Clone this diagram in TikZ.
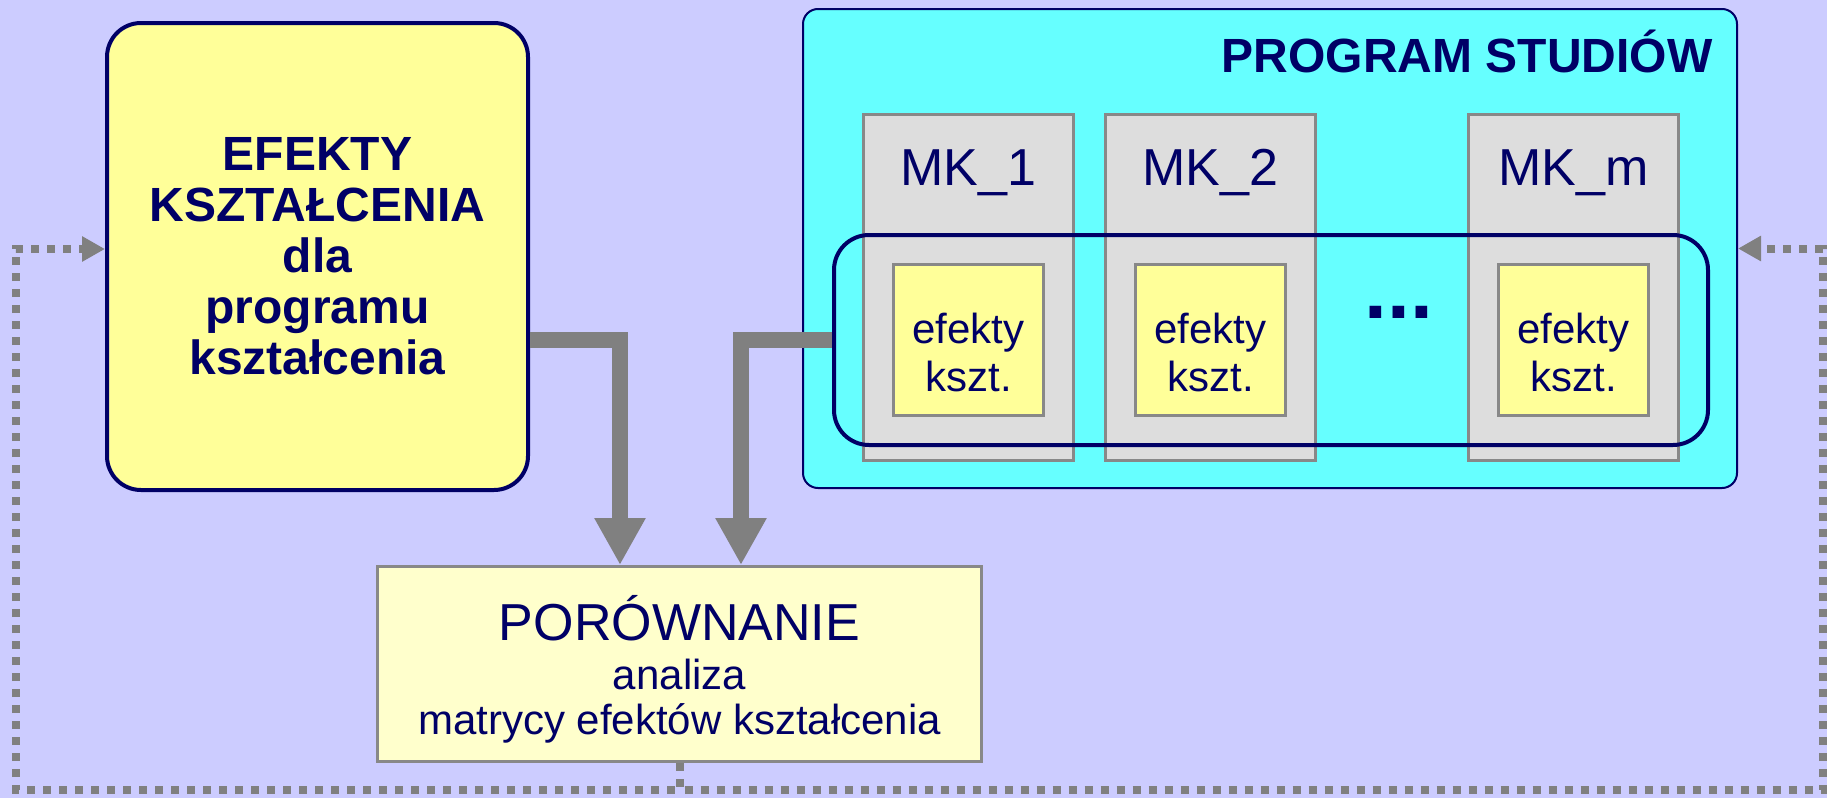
\documentclass[tikz,border=0pt]{standalone}
\usepackage{fontspec}
\setmainfont{Liberation Sans}
\usetikzlibrary{arrows.meta, positioning, calc}

\definecolor{bglav}{HTML}{CCCCFF}
\definecolor{goalyellow}{HTML}{FFFF99}
\definecolor{paleyellow}{HTML}{FFFFCC}
\definecolor{progcyan}{HTML}{66FFFF}
\definecolor{mkgray}{HTML}{DDDDDD}
\definecolor{edgegray}{HTML}{888888}
\definecolor{arrowgray}{HTML}{808080}
\definecolor{navy}{HTML}{000066}

\begin{document}
\begin{tikzpicture}[x=0.5pt, y=-0.5pt, >=latex,
    every node/.style={text=navy, inner sep=0pt},
    goalbox/.style={draw=navy, line width=2pt, fill=goalyellow, rounded corners=17pt,
        minimum width=210.5pt, minimum height=233.5pt, align=center,
        font=\bfseries\fontsize{24}{25.5}\selectfont},
    progbox/.style={draw=navy, line width=1pt, fill=progcyan, rounded corners=7.5pt,
        minimum width=467pt, minimum height=239.5pt},
    mkbox/.style={draw=edgegray, line width=1.5pt, fill=mkgray,
        minimum width=105pt, minimum height=173pt},
    effbox/.style={draw=edgegray, line width=1.5pt, fill=goalyellow,
        minimum width=75pt, minimum height=75.5pt, align=center,
        font=\fontsize{21}{24}\selectfont},
    groupbox/.style={draw=navy, line width=2pt, rounded corners=17.5pt,
        minimum width=437pt, minimum height=105pt},
    cmpbox/.style={draw=edgegray, line width=1.5pt, fill=paleyellow,
        minimum width=302pt, minimum height=97.5pt, align=center,
        font=\fontsize{21}{22.5}\selectfont},
    mklabel/.style={anchor=base, font=\fontsize{26}{26}\selectfont},
    thickarrow/.style={draw=arrowgray, line width=8pt, -{Triangle[width=24pt, length=23.5pt]}},
    feedback/.style={draw=arrowgray, line width=4pt, dash pattern=on 4pt off 4pt,
        -{Triangle[width=12pt, length=11.5pt]}}
]

    \fill[bglav] (0,0) rectangle (1827,798);
    \useasboundingbox (0,0) rectangle (1827,798);

    \node[goalbox] (efekty) at (317.5,256.5) {EFEKTY\\KSZTAŁCENIA\\dla\\programu\\kształcenia};

    \node[progbox] (program) at (1270,248.5) {};
    \node[anchor=base east, font=\bfseries\fontsize{24}{24}\selectfont] (progtitle) at (1713,72) {PROGRAM STUDIÓW};

    \node[mkbox] (mk1) at (968.5,287.5) {};
    \node[mkbox, right=14.5pt of mk1] (mk2) {};
    \node[mkbox, right=75pt of mk2] (mkm) {};

    \node[mklabel] (mk1lbl) at ([yshift=-36pt]mk1.north) {MK\_1};
    \node[mklabel] (mk2lbl) at ([yshift=-36pt]mk2.north) {MK\_2};
    \node[mklabel] (mkmlbl) at ([yshift=-36pt]mkm.north) {MK\_m};

    \node[effbox] (eff1) at ([yshift=-26.25pt]mk1.center) {\rule{0pt}{27.5pt}efekty\\kszt.};
    \node[effbox] (eff2) at ([yshift=-26.25pt]mk2.center) {\rule{0pt}{27.5pt}efekty\\kszt.};
    \node[effbox] (effm) at ([yshift=-26.25pt]mkm.center) {\rule{0pt}{27.5pt}efekty\\kszt.};

    \node[groupbox] (group) at (1271,340) {};
    \node[anchor=base, font=\bfseries\fontsize{41}{41}\selectfont] (dots) at (1399,318) {...};

    \node[cmpbox] (compare) at (679.5,664) {{\fontsize{26}{26}\selectfont\rule{0pt}{27.5pt}PORÓWNANIE}\\[2pt]analiza\\matrycy efektów kształcenia};

    \draw[thickarrow] ([yshift=-41.75pt]efekty.east) -| ([xshift=-29.75pt]compare.north);
    \draw[thickarrow] (group.west) -| ([xshift=30.75pt]compare.north);

    \coordinate (fbleft) at (15.5,790);
    \coordinate (fbright) at (1823,790);
    \draw[feedback] (compare.south) |- (fbleft) |- ([yshift=3.75pt]efekty.west);
    \draw[feedback] (compare.south) |- (fbright) |- (program.east);

\end{tikzpicture}
\end{document}
